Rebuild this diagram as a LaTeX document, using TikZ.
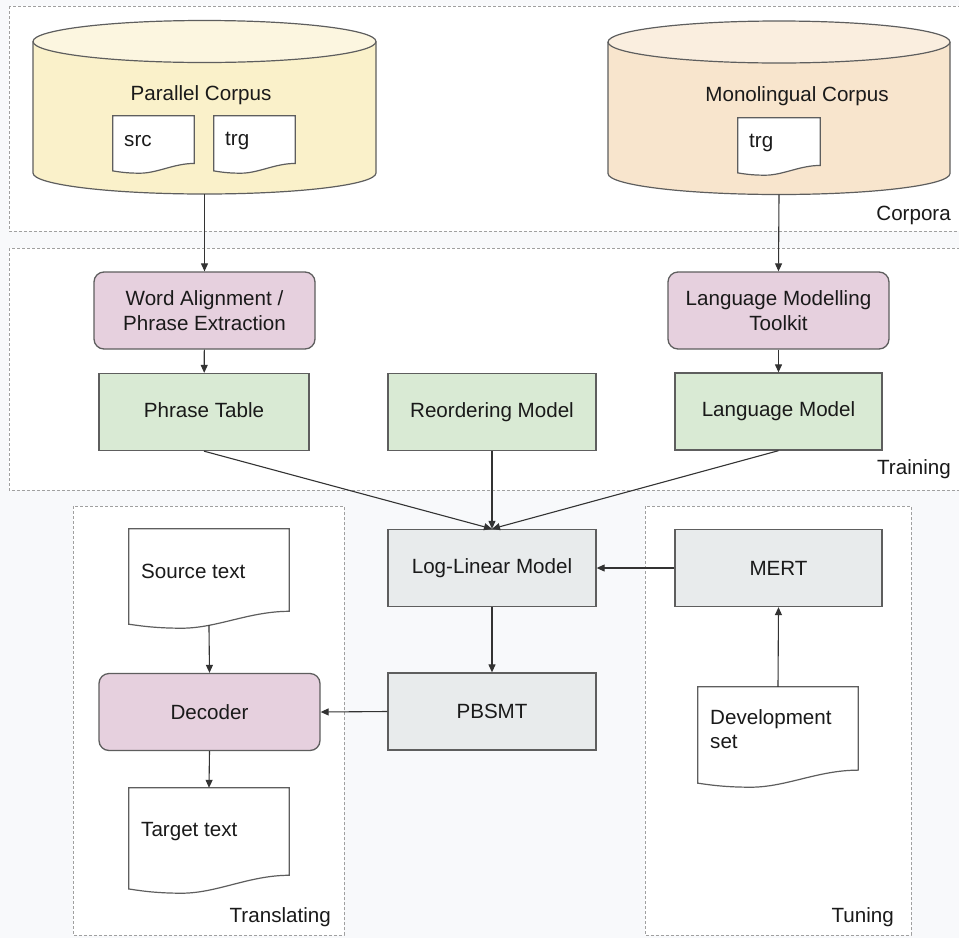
\documentclass[tikz,border=0pt]{standalone}
\usepackage{fontspec}
\setmainfont{Liberation Sans}
\usetikzlibrary{arrows.meta,calc}

\definecolor{bgc}{HTML}{F8F9FB}
\definecolor{grpc}{HTML}{A0A0A0}
\definecolor{boxline}{HTML}{5E5E5E}
\definecolor{linec}{HTML}{333333}
\definecolor{txtc}{HTML}{1A1A1A}
\definecolor{ylbody}{HTML}{FAF1CA}
\definecolor{yltop}{HTML}{FCF6E0}
\definecolor{orbody}{HTML}{F8E5CD}
\definecolor{ortop}{HTML}{FAEEDF}
\definecolor{pinkc}{HTML}{E6D0DE}
\definecolor{greenc}{HTML}{D9EAD4}
\definecolor{greyc}{HTML}{E8EBEC}

% outline of a document symbol with a wavy lower edge, fitted to a node
\newcommand{\docoutline}[1]{%
  \draw[docline] let \p1=(#1.north west), \p2=(#1.south east) in
  (\x1,\y1) -- (\x2,\y1) -- (\x2,{\y2+0.17*(\y1-\y2)})
  .. controls ({\x2-0.25*(\x2-\x1)},{\y2+0.17*(\y1-\y2)}) and ({\x1+0.55*(\x2-\x1)},\y2) .. ({\x1+0.33*(\x2-\x1)},\y2)
  .. controls ({\x1+0.15*(\x2-\x1)},\y2) and ({\x1+0.05*(\x2-\x1)},{\y2+0.03*(\y1-\y2)}) .. (\x1,{\y2+0.04*(\y1-\y2)}) -- cycle;}

\begin{document}
\begin{tikzpicture}[x=1pt,y=-1pt,
  every node/.style={font=\fontsize{20.6}{24.5}\selectfont, text=txtc},
  group/.style={draw=grpc, fill=white, line width=0.9pt, dash pattern=on 3pt off 2pt},
  grouplabel/.style={anchor=east, inner sep=0pt},
  procbox/.style={draw=boxline, line width=1.3pt, rounded corners=10pt, fill=pinkc,
    minimum width=221pt, minimum height=77pt, inner sep=0pt, align=center},
  databox/.style={draw=boxline, line width=1.3pt, fill=greenc,
    minimum height=77pt, inner sep=0pt, align=center},
  modelbox/.style={draw=boxline, line width=1.3pt, fill=greyc,
    minimum width=208pt, minimum height=77pt, inner sep=0pt, align=center},
  docnode/.style={draw=none, fill=none, inner sep=0pt},
  docline/.style={draw=boxline, fill=white, line width=1.2pt},
  doctext/.style={anchor=west, inner sep=0pt, align=left},
  cylline/.style={draw=boxline, line width=1.2pt},
  arr/.style={draw=linec, line width=1.1pt, -{Triangle[length=8pt,width=7pt]}}]

\useasboundingbox (0,0) rectangle (959,938);
\fill[bgc] (0,0) rectangle (959,938);

% stage frames
\draw[group] (9,6) rectangle (965,231);
\draw[group] (9,248) rectangle (965,490);
\draw[group] (73,506) rectangle (344,935);
\draw[group] (645,506) rectangle (911,935);

\node[grouplabel] (lblcorpora) at (951,215) {Corpora};
\node[grouplabel] (lbltraining) at (951,469) {Training};
\node[grouplabel] (lbltranslating) at (331,917) {Translating};
\node[grouplabel] (lbltuning) at (894,917) {Tuning};

% parallel corpus cylinder
\fill[ylbody] (33,41.5) -- (33,173) arc[start angle=180,end angle=360,x radius=171.5pt,y radius=21pt] -- (376,41.5) -- cycle;
\draw[cylline] (33,41.5) -- (33,173) arc[start angle=180,end angle=360,x radius=171.5pt,y radius=21pt] -- (376,41.5);
\draw[cylline, fill=yltop] (204.5,41.5) ellipse[x radius=171.5pt, y radius=21pt];
\node[docnode, minimum width=343pt, minimum height=174pt] (par) at (204.5,107) {};
\node (partitle) at (201,95) {Parallel Corpus};

\node[docnode, minimum width=81pt, minimum height=57pt] (srcfile) at (153.5,144.5) {};
\docoutline{srcfile}
\node[doctext] (srcfiletext) at (124,141) {src};
\node[docnode, minimum width=81pt, minimum height=57pt] (trgfile) at (254.5,144.5) {};
\docoutline{trgfile}
\node[doctext] (trgfiletext) at (225,141) {trg};

% monolingual corpus cylinder
\fill[orbody] (608,42) -- (608,173.5) arc[start angle=180,end angle=360,x radius=171pt,y radius=21pt] -- (950,42) -- cycle;
\draw[cylline] (608,42) -- (608,173.5) arc[start angle=180,end angle=360,x radius=171pt,y radius=21pt] -- (950,42);
\draw[cylline, fill=ortop] (779,42) ellipse[x radius=171pt, y radius=21pt];
\node[docnode, minimum width=342pt, minimum height=174pt] (mono) at (779,107.5) {};
\node (monotitle) at (797,96) {Monolingual Corpus};

\node[docnode, minimum width=82pt, minimum height=57pt] (monofile) at (779,146.5) {};
\docoutline{monofile}
\node[doctext] (monofiletext) at (749,142.5) {trg};

% training stage
\node[procbox] (wa) at (204.5,310.5) {Word Alignment /\\Phrase Extraction};
\node[procbox] (lmt) at (778.5,310.5) {Language Modelling\\Toolkit};
\node[databox, minimum width=210pt] (pt) at (204,412) {\raisebox{3pt}{Phrase Table}};
\node[databox, minimum width=208pt] (rm) at (492,412) {Reordering Model};
\node[databox, minimum width=207pt] (lm) at (778.5,411.5) {Language Model};

% model and decoding
\node[modelbox] (llm) at (492,568) {Log-Linear Model};
\node[modelbox] (pbsmt) at (492,711.5) {PBSMT};
\node[modelbox, minimum width=207pt] (mert) at (778.5,568) {MERT};
\node[procbox] (dec) at (209.5,712) {Decoder};

\node[docnode, minimum width=160pt, minimum height=99pt] (srcdoc) at (209,578.5) {};
\docoutline{srcdoc}
\node[doctext] (srcdoctext) at (141,571) {Source text};

\node[docnode, minimum width=160pt, minimum height=105pt] (tgtdoc) at (209,840.5) {};
\docoutline{tgtdoc}
\node[doctext] (tgtdoctext) at (141,832) {Target text};

\node[docnode, minimum width=160pt, minimum height=100pt] (devdoc) at (778,737) {};
\docoutline{devdoc}
\node[doctext] (devdoctext) at (710,729) {Development\\set};

% connectors
\draw[arr] (par.south) -- (wa.north);
\draw[arr] (mono.south) -- (lmt.north);
\draw[arr] (wa) -- (pt);
\draw[arr] (lmt) -- (lm);
\draw[arr] (pt.south) -- (llm.north);
\draw[arr] (rm.south) -- (llm.north);
\draw[arr] (lm.south) -- (llm.north);
\draw[arr] (llm) -- (pbsmt);
\draw[arr] (pbsmt.west) -- (dec.east);
\draw[arr] (mert.west) -- (llm.east);
\draw[arr] (devdoc.north) -- (mert.south);
\draw[arr, shorten <=-3pt] (srcdoc.south) -- (dec.north);
\draw[arr] (dec.south) -- (tgtdoc.north);

\end{tikzpicture}
\end{document}
